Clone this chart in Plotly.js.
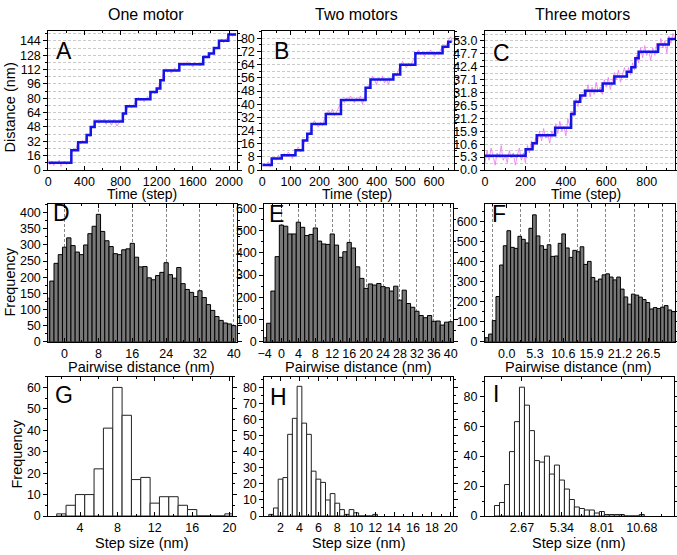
<!DOCTYPE html>
<html><head><meta charset="utf-8">
<script src="https://cdn.plot.ly/plotly-3.0.1.min.js"></script>
<style>html,body{margin:0;padding:0;background:#fff}#chart{width:677px;height:555px}</style>
</head><body><div id="chart"></div>
<script>
// ---------- Top row: distance traces ----------
const stepTimesA  = [0, 255, 330, 425, 470, 513, 825, 860, 970, 1130, 1200, 1240, 1278, 1450, 1715, 1778, 1833, 1889, 1993, 2080];
const stepLevelsA = [8, 22, 31, 39, 48, 54, 63, 71, 79, 87, 91, 100, 111, 118, 126, 130, 136, 144, 151, 151];
const rawDtA = 20;
const rawA = [12, 6, 10, 5, 9, 7, 11, 4, 8, 10, 6, 9, 7,
  20, 24, 21, 28, 32, 29, 33, 30, 38, 40, 37, 47, 49,
  53, 56, 52, 55, 54, 57, 51, 55, 53, 50, 56, 54, 49, 52, 55,
  55, 62, 66, 70, 73, 69, 72, 74, 78, 81, 77, 80, 76, 79, 82,
  78, 86, 88, 85, 90, 93, 99, 102, 110, 113, 109, 112, 108, 111, 114,
  110, 113, 117, 120, 116, 119, 121, 117, 118, 115, 120, 117, 119, 116, 121,
  125, 128, 126, 131, 129, 132, 134, 137, 135, 143, 146, 142, 145, 147, 150,
  153, 149, 152, 151];

const stepTimesB  = [0, 33, 68, 116, 142, 157, 172, 222, 275, 361, 378, 458, 482, 535, 630, 650, 662];
const stepLevelsB = [3, 7, 9, 12, 18, 22, 28, 34, 42.5, 50, 55, 58, 64, 71, 75, 78, 78];
const rawDtB = 7;
const rawB = [2, 4, 3, 5, 2, 6, 8, 6, 9, 7,
  8, 10, 8, 11, 9, 7, 10, 12, 14, 11,
  13, 17, 19, 21, 24, 27, 30, 28, 26, 29,
  27, 31, 33, 36, 34, 37, 33, 35, 38, 40,
  43, 41, 44, 42, 45, 43, 41, 44, 42, 45,
  40, 44, 49, 51, 54, 57, 55, 52, 56, 54,
  57, 53, 55, 52, 56, 57, 59, 57, 61, 63,
  66, 64, 62, 65, 63, 66, 68, 71, 73, 70,
  72, 69, 72, 70, 73, 71, 69, 72, 70, 73,
  75, 74, 77, 79, 81, 78];

const stepTimesC  = [0, 201, 235, 256, 347, 426, 443, 471, 496, 582, 640, 702, 724, 744, 760, 856, 909, 940];
const stepLevelsC = [5.8, 8.5, 11, 14.3, 17.3, 23, 28, 30.5, 32.5, 35.5, 38.3, 40.3, 42.1, 45.8, 48.5, 51.5, 53.7, 53.7];
const rawDtC = 10;
const rawC = [3, 8, 4, 9, 6, 2, 7, 5, 10, 4,
  6, 3, 8, 5, 7, 2, 6, 9, 4, 7,
  3, 10, 7, 12, 9, 13, 11, 16, 12, 17,
  13, 15, 11, 16, 14, 19, 15, 20, 16, 18,
  14, 21, 18, 24, 22, 29, 26, 31, 29, 33,
  31, 35, 30, 34, 31, 36, 32, 34, 31, 37,
  34, 38, 33, 36, 40, 37, 41, 36, 39, 42,
  38, 42, 39, 44, 41, 47, 44, 50, 46, 51,
  47, 49, 45, 50, 47, 52, 49, 54, 50, 53,
  48, 55, 52, 56, 54];

// ---------- Middle row: pairwise distance histograms ----------
const pairStartD = -4, pairWidthD = 1;
const pairCountsD = [135, 188, 243, 270, 293, 322, 298, 278, 270, 300, 335, 358, 395, 342, 313, 295, 273, 270, 285, 288,
  305, 262, 232, 233, 198, 192, 205, 215, 245, 208, 197, 230, 180, 162, 153, 140, 158, 137, 115, 97, 78, 66, 58, 55, 50];
const pairStartE = -4, pairWidthE = 1;
const pairCountsE = [18, 83, 228, 383, 525, 520, 485, 485, 538, 515, 478, 483, 512, 453, 440, 438, 485, 435, 380, 405,
  447, 422, 337, 285, 240, 260, 255, 262, 248, 243, 228, 250, 187, 232, 172, 155, 137, 118, 108, 118, 92, 93, 75, 88, 90];
const pairStartF = -3.72, pairWidthF = 0.685;
const pairCountsF = [20, 38, 105, 225, 382, 478, 553, 470, 465, 525, 510, 492, 565, 632, 527, 478, 460, 483, 425, 427,
  490, 537, 467, 420, 455, 448, 473, 385, 400, 320, 302, 312, 333, 338, 322, 308, 322, 262, 223, 187,
  237, 232, 222, 210, 195, 163, 170, 165, 172, 180, 158, 150];

// ---------- Bottom row: step size histograms ----------
const sizeStartG = 2, sizeWidthG = 1;
const sizeCountsG = [1, 5, 10, 10, 22, 41, 60, 47, 17, 18, 6, 9, 9, 5, 3, 0, 0, 0, 1];
const sizeStartH = 1, sizeWidthH = 0.5;
const sizeCountsH = [1, 5, 23, 24, 51, 61, 81, 58, 51, 28, 23, 21, 10, 14, 8, 4, 1, 4, 2, 0, 0, 0, 1];
const sizeStartI = 1.00125, sizeWidthI = 0.33375;
const sizeCountsI = [7, 9, 21, 43, 63, 86, 74, 57, 37, 36, 40, 28, 34, 24, 18, 11, 6, 5, 4, 4, 2, 3, 1, 1, 1, 1, 0, 0, 0, 1];

// ---------- Labels ----------
const colTitles = ["One motor", "Two motors", "Three motors"];
const panelLetters = ["A", "B", "C", "D", "E", "F", "G", "H", "I"];

// ---------- helpers ----------
const W = 677, H = 555;
const FONT = "Liberation Sans, Arial, sans-serif";
const px = v => v / W;
const py = v => 1 - v / H;
function times(n, dt) { const t = []; for (let i = 0; i < n; i++) t.push(i * dt); return t; }
function centers(start, w, n) { const c = []; for (let i = 0; i < n; i++) c.push(start + i * w); return c; }

function axis(domain, range, extra) {
  return Object.assign({
    domain: domain, range: range, showline: true, linecolor: "#000", linewidth: 1,
    mirror: "ticks", ticks: "outside", ticklen: 4, tickwidth: 1, tickcolor: "#000",
    zeroline: false, showgrid: false, fixedrange: true,
    tickfont: {family: FONT, size: 12.5, color: "#000"}
  }, extra || {});
}
// x axes: ticks drawn inside so the labels sit close to the axis line
function xaxis(domain, range, extra) {
  return axis(domain, range, Object.assign({ticks: "inside", ticklen: 4}, extra));
}
const hGrid = {gridcolor: "#b4b4b4", griddash: "3px,2px", gridwidth: 0.7};
const vGrid = {gridcolor: "#555", griddash: "3px,2px", gridwidth: 0.7};

const traces = [];
function addTop(idx, raw, dt, st, sl) {
  const xa = idx === 1 ? "x" : "x" + idx, ya = idx === 1 ? "y" : "y" + idx;
  traces.push({type: "scatter", mode: "lines", x: times(raw.length, dt), y: raw, xaxis: xa, yaxis: ya,
    line: {color: "rgba(238,115,238,0.85)", width: 0.9}, hoverinfo: "skip"});
  traces.push({type: "scatter", mode: "lines", x: st, y: sl, xaxis: xa, yaxis: ya,
    line: {color: "#1414e6", width: 2.5, shape: "hv"}});
}
addTop(1, rawA, rawDtA, stepTimesA, stepLevelsA);
addTop(2, rawB, rawDtB, stepTimesB, stepLevelsB);
addTop(3, rawC, rawDtC, stepTimesC, stepLevelsC);

function addBars(idx, start, w, counts, fill, lineCol) {
  traces.push({type: "bar", x: centers(start, w, counts.length), y: counts, width: w,
    xaxis: "x" + idx, yaxis: "y" + idx,
    marker: {color: fill, line: {color: lineCol, width: 1}}});
}
addBars(4, pairStartD, pairWidthD, pairCountsD, "#787878", "#000");
addBars(5, pairStartE, pairWidthE, pairCountsE, "#787878", "#000");
addBars(6, pairStartF, pairWidthF, pairCountsF, "#787878", "#000");
addBars(7, sizeStartG, sizeWidthG, sizeCountsG, "#fff", "#222");
addBars(8, sizeStartH, sizeWidthH, sizeCountsH, "#fff", "#222");
addBars(9, sizeStartI, sizeWidthI, sizeCountsI, "#fff", "#222");

const rowTop = [py(170), py(31)], rowMid = [py(341.7), py(204)], rowBot = [py(516), py(376.7)];
const minorT = {ticks: "outside", ticklen: 2, tickcolor: "#000"};
const minorX = {ticks: "inside", ticklen: 2, tickcolor: "#000"};

const layout = {
  width: W, height: H, margin: {l: 0, r: 0, t: 0, b: 0}, showlegend: false,
  paper_bgcolor: "#fff", plot_bgcolor: "#fff", bargap: 0,
  font: {family: FONT, color: "#000"},
  xaxis:  xaxis([px(48.3), px(236.5)], [0, 2083], {anchor: "y", dtick: 400, tick0: 0, minor: Object.assign({dtick: 200}, minorX)}),
  yaxis:  axis(rowTop, [0, 155], Object.assign({anchor: "x", dtick: 16, tick0: 0, showgrid: true,
            minor: Object.assign({dtick: 8, showgrid: true}, minorT, hGrid)}, hGrid)),
  xaxis2: xaxis([px(262.3), px(454)], [0, 670], {anchor: "y2", dtick: 100, tick0: 0, minor: Object.assign({dtick: 50}, minorX)}),
  yaxis2: axis(rowTop, [0, 84.5], Object.assign({anchor: "x2", dtick: 8, tick0: 0, showgrid: true,
            minor: Object.assign({dtick: 4, showgrid: true}, minorT, hGrid)}, hGrid)),
  xaxis3: xaxis([px(485), px(675)], [0, 940], {anchor: "y3", dtick: 200, tick0: 0, minor: Object.assign({dtick: 100}, minorX)}),
  yaxis3: axis(rowTop, [0, 57], Object.assign({anchor: "x3", dtick: 5.3, tick0: 0, tickformat: ".1f", showgrid: true,
            minor: Object.assign({dtick: 2.65, showgrid: true}, minorT, hGrid)}, hGrid)),

  xaxis4: xaxis([px(48.3), px(237)], [-3.85, 40.75], Object.assign({anchor: "y4", dtick: 8, tick0: 0, showgrid: true,
            minor: Object.assign({dtick: 4}, minorX)}, vGrid)),
  yaxis4: axis(rowMid, [0, 427], {anchor: "x4", dtick: 50, tick0: 0, minor: Object.assign({dtick: 25}, minorT)}),
  xaxis5: xaxis([px(264.3), px(452.7)], [-4.05, 40.45], Object.assign({anchor: "y5", dtick: 4, tick0: 0, showgrid: true,
            minor: Object.assign({dtick: 2}, minorX)}, vGrid)),
  yaxis5: axis(rowMid, [0, 620], {anchor: "x5", dtick: 100, tick0: 0, minor: Object.assign({dtick: 50}, minorT)}),
  xaxis6: xaxis([px(485), px(675)], [-4.06, 31.5], {anchor: "y6", dtick: 5.3, tick0: 0, tickformat: ".1f",
            minor: Object.assign({dtick: 5.3, tick0: 2.65, showgrid: true}, minorX, vGrid)}),
  yaxis6: axis(rowMid, [0, 686], {anchor: "x6", dtick: 100, tick0: 0, minor: Object.assign({dtick: 50}, minorT)}),

  xaxis7: xaxis([px(48.3), px(232.3)], [0.6, 20.3], {anchor: "y7", dtick: 4, tick0: 0, minor: Object.assign({dtick: 2}, minorX)}),
  yaxis7: axis(rowBot, [0, 65], {anchor: "x7", dtick: 10, tick0: 0, minor: Object.assign({dtick: 5}, minorT)}),
  xaxis8: xaxis([px(264.3), px(452.7)], [0.28, 20.2], {anchor: "y8", dtick: 2, tick0: 0, minor: Object.assign({dtick: 1}, minorX)}),
  yaxis8: axis(rowBot, [0, 87], {anchor: "x8", dtick: 10, tick0: 0, minor: Object.assign({dtick: 5}, minorT)}),
  xaxis9: xaxis([px(485), px(674)], [0.2, 12.83], {anchor: "y9", dtick: 2.67, tick0: 0, tickformat: ".2f",
            minor: Object.assign({dtick: 1.335}, minorX)}),
  yaxis9: axis(rowBot, [0, 93], {anchor: "x9", dtick: 20, tick0: 0, minor: Object.assign({dtick: 10}, minorT)}),
  annotations: []
};

function ann(text, x, y, size, extra) {
  layout.annotations.push(Object.assign({text: text, x: px(x), y: py(y), xref: "paper", yref: "paper",
    showarrow: false, xanchor: "center", yanchor: "middle",
    font: {family: FONT, size: size, color: "#000"}}, extra || {}));
}
ann(colTitles[0], 146, 15, 16);
ann(colTitles[1], 356, 15, 16);
ann(colTitles[2], 582, 15, 16);
ann("Time (step)", 141.5, 194, 14);
ann("Time (step)", 356.5, 194, 14);
ann("Time (step)", 585.5, 194, 14);
ann("Pairwise distance (nm)", 141.5, 366.5, 14.5);
ann("Pairwise distance (nm)", 358, 366.5, 14.5);
ann("Pairwise distance (nm)", 578, 366.5, 14.5);
ann("Step size (nm)", 141.5, 543, 14.5);
ann("Step size (nm)", 358, 543, 14.5);
ann("Step size (nm)", 578, 543, 14.5);
ann("Distance (nm)", 9.5, 108, 14.5, {textangle: -90});
ann("Frequency", 9.5, 282, 14.5, {textangle: -90});
ann("Frequency", 16.5, 454, 14.5, {textangle: -90});
const letterPos = [[64, 50], [281.5, 50], [501.5, 51.5], [61, 212], [276, 213], [499, 213], [64, 394], [278, 396], [496, 393]];
panelLetters.forEach((L, i) => ann(L, letterPos[i][0], letterPos[i][1] + 1, 23));

Plotly.newPlot("chart", traces, layout, {staticPlot: true, displayModeBar: false});
</script></body></html>
